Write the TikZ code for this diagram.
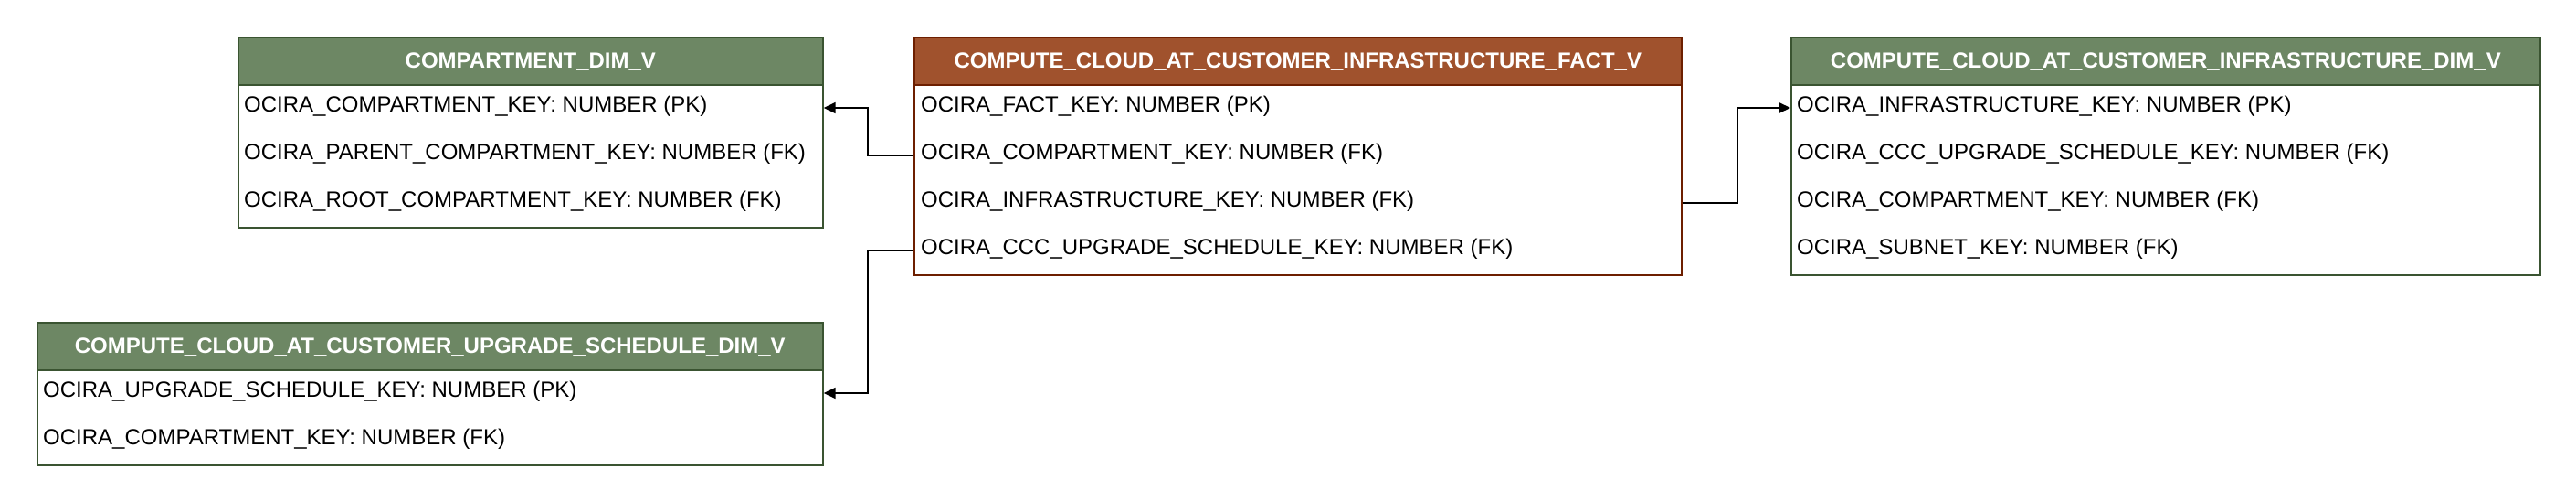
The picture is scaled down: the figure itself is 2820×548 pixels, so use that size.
\documentclass[tikz,border=0pt]{standalone}
\usepackage{fontspec}
\setmainfont{Liberation Sans}
\usetikzlibrary{arrows.meta}
\definecolor{grnfill}{HTML}{6D8764}
\definecolor{grnline}{HTML}{3A5431}
\definecolor{brnfill}{HTML}{A0522D}
\definecolor{brnline}{HTML}{6D1F00}
\tikzset{
  tablebox/.style={draw=#1, line width=1.7pt, fill=white, inner sep=0pt, anchor=north west, rectangle},
  hdrbox/.style 2 args={draw=#2, fill=#1, line width=1.7pt, inner sep=0pt, anchor=north west, rectangle,
     text=white, font=\fontsize{24pt}{28pt}\selectfont\bfseries, text height=17pt, text depth=1pt, minimum height=52pt},
  rowtxt/.style={anchor=west, inner sep=0pt, text height=17pt, text depth=8.6pt, font=\fontsize{24pt}{28pt}\selectfont, text=black},
  conn/.style={draw=black, line width=1.7pt, -{Triangle[length=13pt,width=12pt]}},
}
\begin{document}
\begin{tikzpicture}[x=1pt,y=-1pt]
\useasboundingbox (0,0) rectangle (2820,548);
\fill[white] (0,0) rectangle (2820,548);

% COMPARTMENT_DIM_V
\node[tablebox=grnline, minimum width=640pt, minimum height=208pt] (cmp) at (260,40) {};
\node[hdrbox={grnfill}{grnline}, minimum width=640pt] (cmph) at (cmp.north west) {COMPARTMENT\_DIM\_V};
\node[rowtxt] (cmp1) at (267,118) {OCIRA\_COMPARTMENT\_KEY: NUMBER (PK)};
\node[rowtxt] (cmp2) at (267,170) {OCIRA\_PARENT\_COMPARTMENT\_KEY: NUMBER (FK)};
\node[rowtxt] (cmp3) at (267,222) {OCIRA\_ROOT\_COMPARTMENT\_KEY: NUMBER (FK)};

% UPGRADE_SCHEDULE_DIM_V
\node[tablebox=grnline, minimum width=860pt, minimum height=156pt] (upg) at (40,352) {};
\node[hdrbox={grnfill}{grnline}, minimum width=860pt] (upgh) at (upg.north west) {COMPUTE\_CLOUD\_AT\_CUSTOMER\_UPGRADE\_SCHEDULE\_DIM\_V};
\node[rowtxt] (upg1) at (47,430) {OCIRA\_UPGRADE\_SCHEDULE\_KEY: NUMBER (PK)};
\node[rowtxt] (upg2) at (47,482) {OCIRA\_COMPARTMENT\_KEY: NUMBER (FK)};

% FACT
\node[tablebox=brnline, minimum width=840pt, minimum height=260pt] (fact) at (1000,40) {};
\node[hdrbox={brnfill}{brnline}, minimum width=840pt] (facth) at (fact.north west) {COMPUTE\_CLOUD\_AT\_CUSTOMER\_INFRASTRUCTURE\_FACT\_V};
\node[rowtxt] (fact1) at (1008,118) {OCIRA\_FACT\_KEY: NUMBER (PK)};
\node[rowtxt] (fact2) at (1008,170) {OCIRA\_COMPARTMENT\_KEY: NUMBER (FK)};
\node[rowtxt] (fact3) at (1008,222) {OCIRA\_INFRASTRUCTURE\_KEY: NUMBER (FK)};
\node[rowtxt] (fact4) at (1008,274) {OCIRA\_CCC\_UPGRADE\_SCHEDULE\_KEY: NUMBER (FK)};

% INFRASTRUCTURE_DIM_V
\node[tablebox=grnline, minimum width=820pt, minimum height=260pt] (inf) at (1960,40) {};
\node[hdrbox={grnfill}{grnline}, minimum width=820pt] (infh) at (inf.north west) {COMPUTE\_CLOUD\_AT\_CUSTOMER\_INFRASTRUCTURE\_DIM\_V};
\node[rowtxt] (inf1) at (1967,118) {OCIRA\_INFRASTRUCTURE\_KEY: NUMBER (PK)};
\node[rowtxt] (inf2) at (1967,170) {OCIRA\_CCC\_UPGRADE\_SCHEDULE\_KEY: NUMBER (FK)};
\node[rowtxt] (inf3) at (1967,222) {OCIRA\_COMPARTMENT\_KEY: NUMBER (FK)};
\node[rowtxt] (inf4) at (1967,274) {OCIRA\_SUBNET\_KEY: NUMBER (FK)};

% connectors
\draw[conn] (fact.west |- fact2) -- ++(-50,0) |- (cmp.east |- cmp1);
\draw[conn] (fact.west |- fact4) -- ++(-50,0) |- (upg.east |- upg1);
\draw[conn] (fact.east |- fact3) -- ++(60,0) |- (inf.west |- inf1);
\end{tikzpicture}
\end{document}
